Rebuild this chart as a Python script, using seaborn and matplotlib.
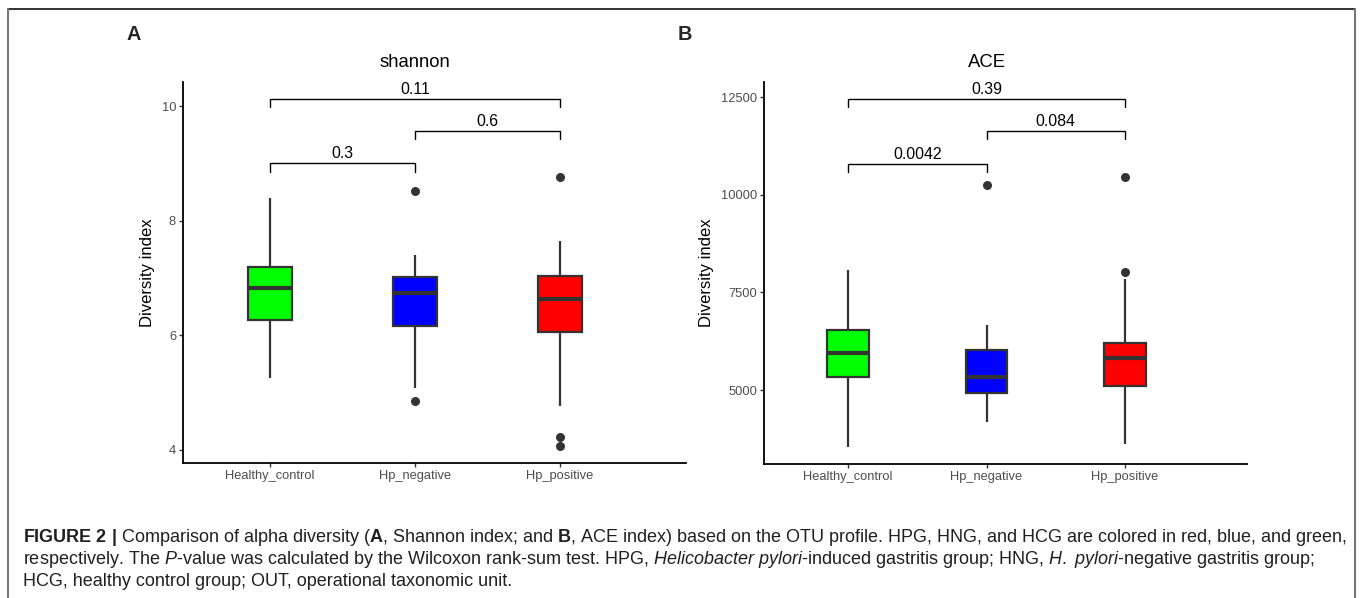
import numpy as np
import pandas as pd
import matplotlib
matplotlib.use("Agg")
import matplotlib.pyplot as plt
import matplotlib.transforms as mtransforms
from matplotlib.lines import Line2D
import seaborn as sns

# ---------------- data ----------------
groups = ["Healthy_control", "Hp_negative", "Hp_positive"]
group_colors = ["#00FF00", "#0000FF", "#FF0000"]

# box summaries: low whisker, Q1, median, Q3, high whisker
shannon_hc = [5.25, 6.26, 6.83, 7.19, 8.39]
shannon_hn = [5.08, 6.16, 6.74, 7.01, 7.40]
shannon_hp = [4.76, 6.06, 6.63, 7.03, 7.65]
shannon_out_hn = [8.51, 4.85]
shannon_out_hp = [8.77, 4.22, 4.07]

ace_hc = [3550, 5325, 5955, 6535, 8070]
ace_hn = [4190, 4915, 5325, 6025, 6670]
ace_hp = [3620, 5100, 5810, 6210, 7830]
ace_out_hn = [10235]
ace_out_hp = [10445, 8015]

# pairwise comparisons: (group a, group b) and p-value labels
pairs = [("Healthy_control", "Hp_negative"),
         ("Hp_negative", "Hp_positive"),
         ("Healthy_control", "Hp_positive")]
shannon_p = ["0.3", "0.6", "0.11"]
shannon_bracket_y = [9.0, 9.57, 10.13]
ace_p = ["0.0042", "0.084", "0.39"]
ace_bracket_y = [10795, 11630, 12455]

shannon_ticks = [4, 6, 8, 10]
ace_ticks = [5000, 7500, 10000, 12500]

caption_lines = [
    r"$\mathbf{FIGURE\ 2\ |}$ Comparison of alpha diversity ($\mathbf{A}$, Shannon index; and $\mathbf{B}$, ACE index) based on the OTU profile. HPG, HNG, and HCG are colored in red, blue, and green,",
    r"respectively. The $\mathit{P}$-value was calculated by the Wilcoxon rank-sum test. HPG, $\mathit{Helicobacter\ pylori}$-induced gastritis group; HNG, $\mathit{H.}$ $\mathit{pylori}$-negative gastritis group;",
    r"HCG, healthy control group; OUT, operational taxonomic unit.",
]


def long_df(vals_list):
    rows = []
    for g, vals in zip(groups, vals_list):
        for v in vals:
            rows.append((g, v))
    return pd.DataFrame(rows, columns=["group", "value"])


# ---------------- style ----------------
sns.set_style("white")
plt.rcParams["font.family"] = ["Liberation Sans", "DejaVu Sans"]
plt.rcParams["mathtext.fontset"] = "custom"
plt.rcParams["mathtext.rm"] = "Liberation Sans"
plt.rcParams["mathtext.it"] = "Liberation Sans:italic"
plt.rcParams["mathtext.bf"] = "Liberation Sans:bold"

W, H = 1360, 598
fig = plt.figure(figsize=(W / 100, H / 100), dpi=100)


def px_axes(left, right, top, bottom):
    return fig.add_axes([left / W, 1 - bottom / H, (right - left) / W, (bottom - top) / H])


axA = px_axes(183, 686, 82, 463)
axB = px_axes(764, 1247, 82, 464)

palette = dict(zip(groups, group_colors))


def draw_panel(ax, boxes, outliers, ylim, yticks, title, pvals, bys, tick_h, xlim):
    df = long_df(boxes)
    sns.boxplot(data=df, x="group", y="value", hue="group", order=groups,
                palette=palette, saturation=1, legend=False, width=0.3, ax=ax,
                linecolor="#333333", linewidth=1.6, showcaps=False,
                showfliers=False, whis=1.5,
                medianprops={"linewidth": 3.0, "color": "#333333"},
                boxprops={"edgecolor": "#333333"})
    out_df = long_df(outliers)
    sns.stripplot(data=out_df, x="group", y="value", order=groups, jitter=False,
                  color="#333333", size=6.5, ax=ax, zorder=5)
    ax.set_xlim(*xlim)
    ax.set_ylim(*ylim)
    ax.set_yticks(yticks)
    ax.set_yticklabels([str(t) for t in yticks])
    ax.set_xlabel("")
    ax.set_ylabel("Diversity index", fontsize=12, color="black", labelpad=5)
    for s in ["top", "right"]:
        ax.spines[s].set_visible(False)
    for s in ["left", "bottom"]:
        ax.spines[s].set_color("black")
        ax.spines[s].set_linewidth(1.3)
    ax.tick_params(axis="both", which="major", length=3, width=1.0, color="#333333",
                   labelsize=9.3, labelcolor="#4D4D4D", pad=2, left=True, bottom=True)
    # title centered over the middle category
    trans = mtransforms.blended_transform_factory(ax.transData, ax.transAxes)
    ax.text(1, 1.05, title, transform=trans, ha="center", va="center", fontsize=13.3,
            color="black")
    # significance brackets
    for (a, b), p, yb in zip(pairs, pvals, bys):
        xa, xb = groups.index(a), groups.index(b)
        ax.plot([xa, xa, xb, xb], [yb - tick_h, yb, yb, yb - tick_h],
                color="black", lw=1.0, clip_on=False, solid_joinstyle="miter")
        ax.annotate(p, xy=((xa + xb) / 2, yb), xytext=(0, 1.5), textcoords="offset points",
                    ha="center", va="bottom", fontsize=11.4, color="black")


draw_panel(axA, [shannon_hc, shannon_hn, shannon_hp], [[], shannon_out_hn, shannon_out_hp],
           (3.773, 10.42), shannon_ticks, "shannon", shannon_p, shannon_bracket_y, 0.145,
           (-0.6, 2.869))
draw_panel(axB, [ace_hc, ace_hn, ace_hp], [[], ace_out_hn, ace_out_hp],
           (3106, 12884), ace_ticks, "ACE", ace_p, ace_bracket_y, 213,
           (-0.606, 2.88))

# panel letters
fig.text(134 / W, 1 - 35 / H, "A", fontsize=14.3, fontweight="bold", ha="center", va="center")
fig.text(685 / W, 1 - 35 / H, "B", fontsize=14.3, fontweight="bold", ha="center", va="center")

# outer frame
fig.add_artist(Line2D([8 / W, 1355 / W], [1 - 9 / H, 1 - 9 / H], color="#222222", lw=1.3,
                      transform=fig.transFigure))
fig.add_artist(Line2D([8 / W, 8 / W], [1 - 9 / H, 0], color="#777777", lw=1.5,
                      transform=fig.transFigure))
fig.add_artist(Line2D([1355 / W, 1355 / W], [1 - 9 / H, 0], color="#777777", lw=1.5,
                      transform=fig.transFigure))

# caption
for line, base in zip(caption_lines, [542, 564, 586]):
    fig.text(23 / W, 1 - base / H, line, fontsize=12.95, color="#231F20",
             ha="left", va="baseline")

fig.savefig("out.png", dpi=100)
